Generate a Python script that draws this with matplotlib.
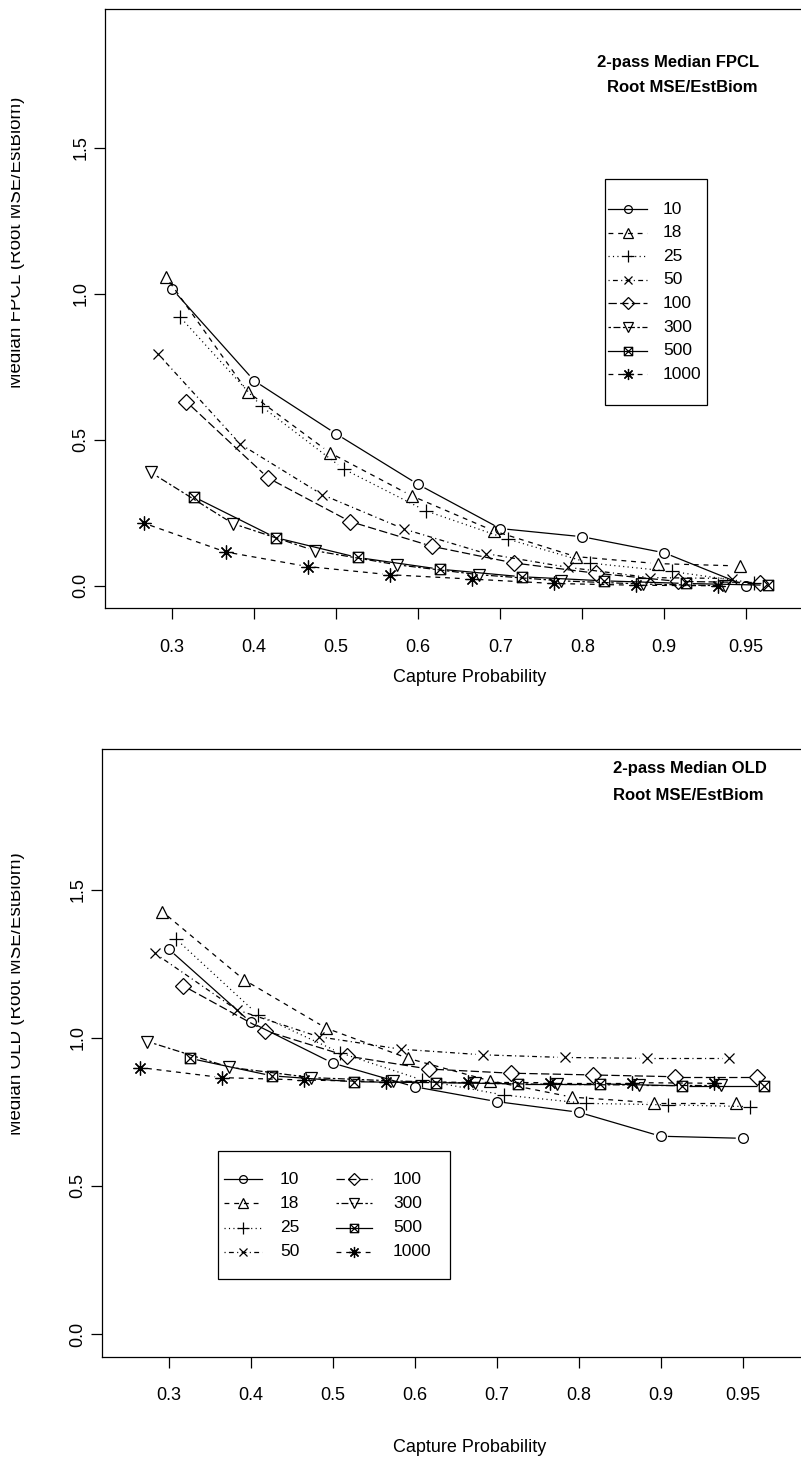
import numpy as np
import matplotlib
matplotlib.use("Agg")
import matplotlib.pyplot as plt
from matplotlib.lines import Line2D
from matplotlib.patches import Rectangle
from matplotlib.path import Path
from matplotlib.transforms import Bbox

prob_labels = ['0.3', '0.4', '0.5', '0.6', '0.7', '0.8', '0.9', '0.95']
sizes = ['10', '18', '25', '50', '100', '300', '500', '1000']

# median FPCL, root MSE / estimated biomass
fpcl_10 = [1.016, 0.702, 0.520, 0.347, 0.196, 0.168, 0.113, 0.000]
fpcl_18 = [1.059, 0.664, 0.456, 0.308, 0.188, 0.100, 0.076, 0.068]
fpcl_25 = [0.922, 0.614, 0.400, 0.257, 0.160, 0.078, 0.049, 0.010]
fpcl_50 = [0.793, 0.485, 0.312, 0.194, 0.110, 0.063, 0.028, 0.025]
fpcl_100 = [0.631, 0.369, 0.220, 0.135, 0.078, 0.043, 0.015, 0.011]
fpcl_300 = [0.388, 0.213, 0.120, 0.072, 0.038, 0.017, 0.006, 0.000]
fpcl_500 = [0.305, 0.165, 0.097, 0.057, 0.031, 0.017, 0.008, 0.002]
fpcl_1000 = [0.215, 0.116, 0.066, 0.038, 0.023, 0.008, 0.002, 0.000]

# median OLD, root MSE / estimated biomass
old_10 = [1.300, 1.053, 0.915, 0.835, 0.785, 0.749, 0.668, 0.661]
old_18 = [1.427, 1.196, 1.033, 0.931, 0.855, 0.800, 0.781, 0.781]
old_25 = [1.334, 1.078, 0.950, 0.858, 0.807, 0.779, 0.774, 0.768]
old_50 = [1.286, 1.095, 1.004, 0.962, 0.943, 0.934, 0.931, 0.931]
old_100 = [1.177, 1.025, 0.939, 0.895, 0.881, 0.875, 0.869, 0.869]
old_300 = [0.988, 0.901, 0.866, 0.855, 0.847, 0.843, 0.841, 0.841]
old_500 = [0.931, 0.872, 0.852, 0.849, 0.845, 0.845, 0.838, 0.838]
old_1000 = [0.900, 0.866, 0.858, 0.852, 0.850, 0.849, 0.849, 0.847]

fpcl = [fpcl_10, fpcl_18, fpcl_25, fpcl_50, fpcl_100, fpcl_300, fpcl_500, fpcl_1000]
old = [old_10, old_18, old_25, old_50, old_100, old_300, old_500, old_1000]

plt.rcParams['font.family'] = ['Liberation Sans', 'DejaVu Sans']
plt.rcParams['lines.scale_dashes'] = False

# horizontal shift of each series so the markers don't sit on top of each other
shift = [0.0, -0.08, 0.09, -0.17, 0.17, -0.26, 0.26, -0.35]

# R style line types
solid = '-'
dashed = (0, (3.5, 3.5))
dotted = (0, (0.8, 2.4))
dotdash = (0, (0.8, 2.4, 3.5, 2.4))
longdash = (0, (6, 2.4))
twodash = (0, (1.8, 1.8, 5, 1.8))
ltys = [solid, dashed, dotted, dotdash, longdash, twodash, solid, dashed]

boxx = Path([(-1, -1), (1, -1), (1, 1), (-1, 1), (-1, -1),
             (-1, -1), (1, 1), (-1, 1), (1, -1)],
            [Path.MOVETO, Path.LINETO, Path.LINETO, Path.LINETO, Path.CLOSEPOLY,
             Path.MOVETO, Path.LINETO, Path.MOVETO, Path.LINETO])
markers = ['o', '^', '+', 'x', 'D', 'v', boxx, (8, 2, 0)]
msizes = [7.0, 9.0, 10, 7.5, 8.0, 9.0, 7.5, 10]

W, H = 801, 1466
fig = plt.figure(figsize=(W / 100, H / 100), dpi=100)


def fx(px):
    return px / W


def fy(py):
    return 1 - py / H


def px_axes(left, top, right, bottom):
    return fig.add_axes([fx(left), fy(bottom), (right - left) / W, (bottom - top) / H])


def gapped(ax, xs, ys, ls, gap=7.0):
    # type="b": segments stop short of the points
    pts = ax.transData.transform(np.column_stack([xs, ys]))
    inv = ax.transData.inverted()
    for p0, p1 in zip(pts[:-1], pts[1:]):
        d = p1 - p0
        n = np.hypot(*d)
        if n <= 2 * gap:
            continue
        u = d / n
        seg = inv.transform(np.array([p0 + gap * u, p1 - gap * u]))
        ax.plot(seg[:, 0], seg[:, 1], color='k', lw=0.9, ls=ls, solid_capstyle='butt')


def panel(ax, series, titles, ylab, ylab_y, xlab_y):
    ax.set_xlim(0.18, 8.82)
    ax.set_ylim(-0.076, 1.976)
    pos = np.arange(1, 9)
    for ys, off, ls, mk, ms in zip(series, shift, ltys, markers, msizes):
        xs = pos + off
        gapped(ax, xs, ys, ls)
        ax.plot(xs, ys, ls='none', marker=mk, ms=ms, mfc='none', mec='k', mew=0.9)
    ax.set_xticks(pos)
    ax.set_xticklabels(prob_labels)
    ax.set_yticks([0, 0.5, 1.0, 1.5])
    ax.set_yticklabels(['0.0', '0.5', '1.0', '1.5'], rotation=90, va='center')
    ax.tick_params(length=8, width=0.9, labelsize=13, direction='out')
    ax.tick_params(axis='x', pad=14)
    ax.tick_params(axis='y', pad=3)
    for s in ax.spines.values():
        s.set_linewidth(0.9)
    fig.text(fx(470), fy(xlab_y), 'Capture Probability', ha='center', va='center',
             fontsize=13)
    for tx, ty, s in titles:
        fig.text(fx(tx), fy(ty), s, ha='center', va='center', fontsize=12, fontweight='bold')
    t = fig.text(fx(17), fy(ylab_y), ylab, rotation=90, ha='center', va='center',
                 fontsize=13.5)
    t.set_clip_box(Bbox([[11, 0], [W, H]]))
    t.set_clip_on(True)


def key(box, cols, rows):
    # legend drawn in figure pixels: frame, then (line start, line end, text x, series) per column
    x0, y0, x1, y1 = box
    fig.add_artist(Rectangle((fx(x0), fy(y1)), (x1 - x0) / W, (y1 - y0) / H,
                             transform=fig.transFigure, fill=False, ec='k', lw=0.9))
    for la, lb, tx, idx in cols:
        for py, i in zip(rows, idx):
            fig.add_artist(Line2D([fx(la), fx(lb)], [fy(py), fy(py)], transform=fig.transFigure,
                                  color='k', lw=0.9, ls=ltys[i]))
            fig.add_artist(Line2D([fx((la + lb) / 2)], [fy(py)], transform=fig.transFigure,
                                  ls='none', marker=markers[i], ms=msizes[i] * 0.8,
                                  mfc='none', mec='k', mew=0.9))
            fig.text(fx(tx), fy(py), sizes[i], ha='left', va='center', fontsize=12.5)


ax1 = px_axes(105, 8.7, 813.5, 608)
panel(ax1, fpcl,
      [(678, 62, '2-pass Median FPCL'), (682, 87, 'Root MSE/EstBiom')],
      'Median FPCL (Root MSE/EstBiom)', 242, 677)
key((605, 179, 707, 405), [(608, 647, 663, range(8))],
    [209 + 23.6 * k for k in range(8)])

ax2 = px_axes(101.5, 749, 810, 1356.5)
panel(ax2, old,
      [(690, 768, '2-pass Median OLD'), (688, 795, 'Root MSE/EstBiom')],
      'Median OLD (Root MSE/EstBiom)', 994, 1447)
key((218, 1151, 450, 1279), [(224, 262, 280, range(4)), (336, 372, 393, range(4, 8))],
    [1179 + 24.3 * k for k in range(4)])

fig.savefig('out.png', dpi=100)
